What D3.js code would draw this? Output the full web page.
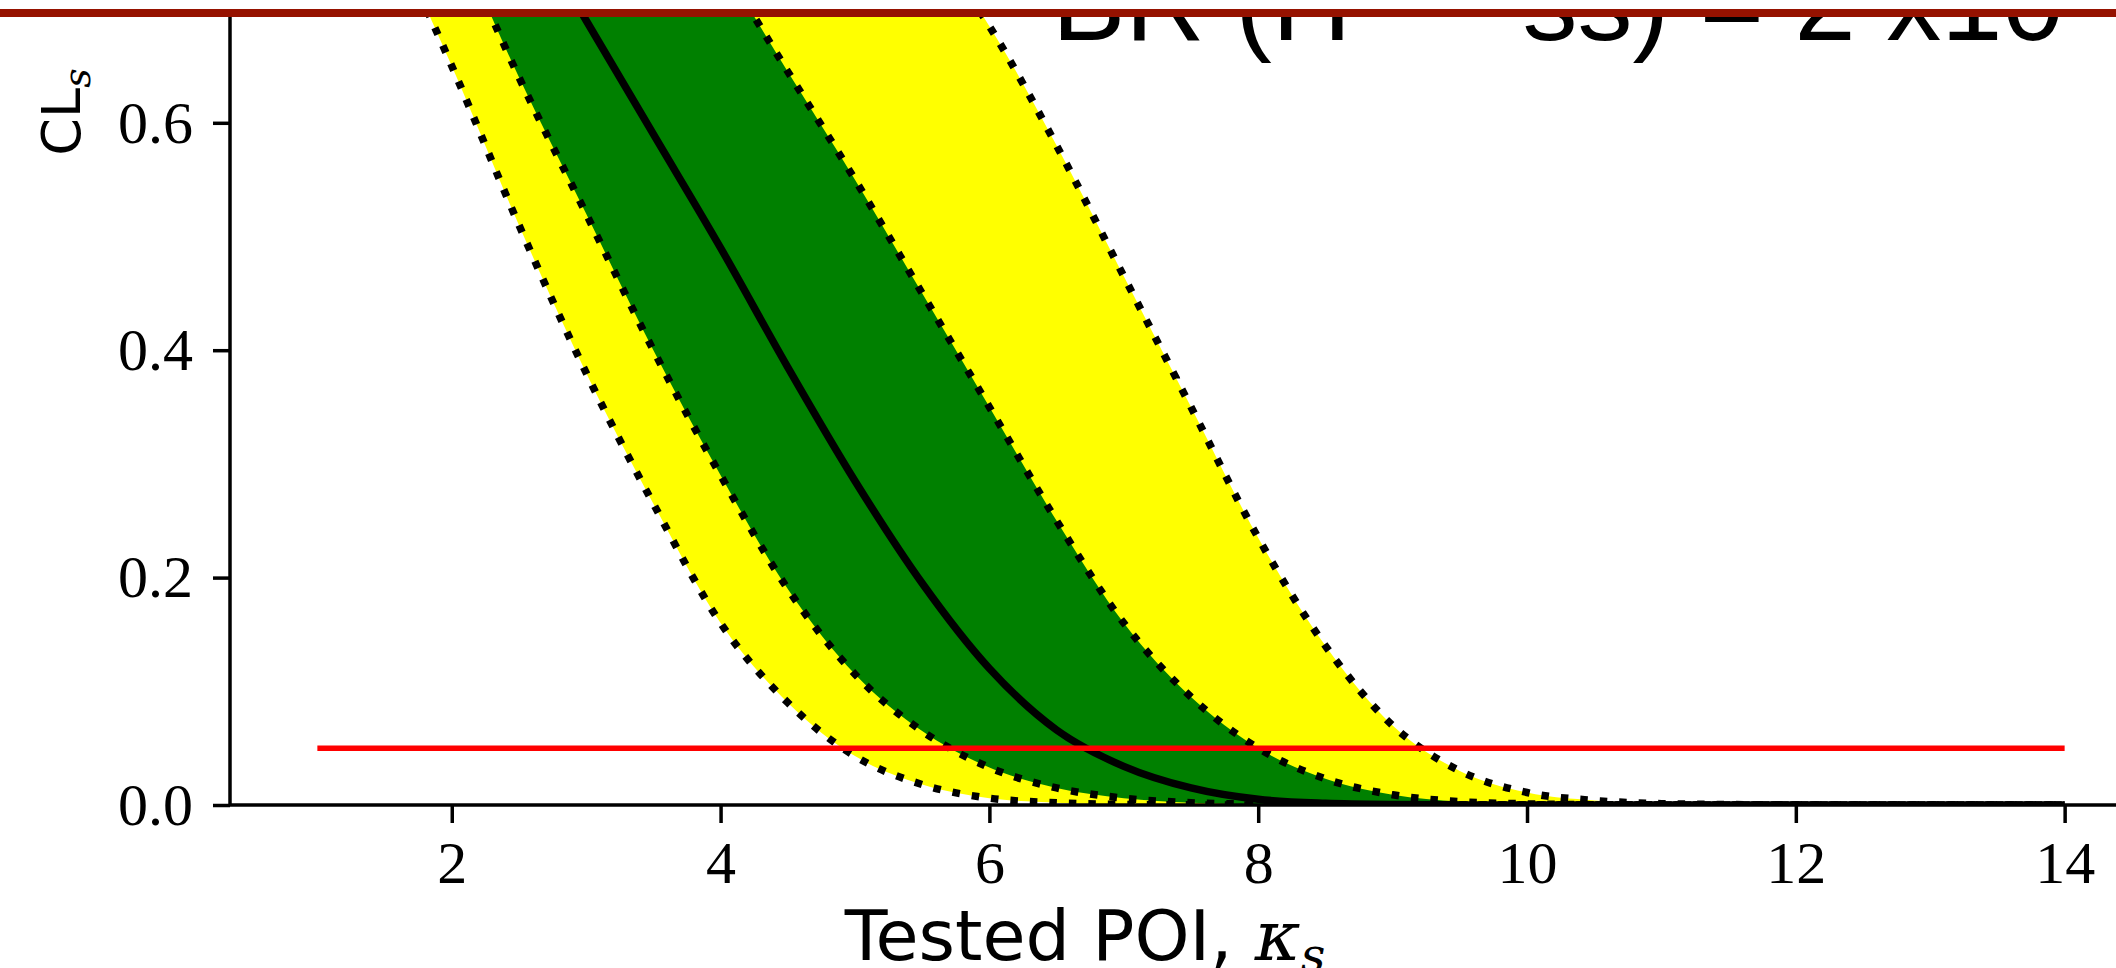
<!DOCTYPE html>
<html>
<head>
<meta charset="utf-8">
<script src="https://cdn.jsdelivr.net/npm/d3@7"></script>
<style>
  body { margin: 0; background: #fff; }
  svg { display: block; }
</style>
</head>
<body>
<div id="chart"></div>
<script>
// Tested POI values and CLs expected bands
var kappa = [1, 1.5, 2, 2.5, 3, 3.5, 4, 4.5, 5, 5.5, 6, 6.5, 7, 7.5, 8, 8.5, 9, 9.5, 10, 10.5, 11, 11.5, 12, 12.5, 13, 13.5, 14];
var clsMinus2 = [0.90, 0.78, 0.65, 0.51, 0.38, 0.265, 0.16, 0.09, 0.043, 0.018, 0.006, 0.002, 0.0005, 0.0001, 0, 0, 0, 0, 0, 0, 0, 0, 0, 0, 0, 0, 0];
var clsMinus1 = [0.95, 0.88, 0.77, 0.64, 0.52, 0.40, 0.29, 0.19, 0.115, 0.065, 0.033, 0.015, 0.006, 0.002, 0.0007, 0.0002, 0, 0, 0, 0, 0, 0, 0, 0, 0, 0, 0];
var clsMedian = [0.97, 0.93, 0.87, 0.79, 0.69, 0.59, 0.49, 0.385, 0.285, 0.195, 0.12, 0.066, 0.034, 0.015, 0.005, 0.0015, 0.0004, 0.0001, 0, 0, 0, 0, 0, 0, 0, 0, 0];
var clsPlus1 = [0.995, 0.985, 0.97, 0.94, 0.89, 0.82, 0.74, 0.645, 0.55, 0.45, 0.35, 0.25, 0.16, 0.095, 0.05, 0.023, 0.009, 0.003, 0.001, 0.0003, 0.0001, 0, 0, 0, 0, 0, 0];
var clsPlus2 = [1.0, 0.998, 0.995, 0.99, 0.98, 0.97, 0.95, 0.91, 0.85, 0.77, 0.685, 0.58, 0.465, 0.35, 0.235, 0.14, 0.07, 0.03, 0.011, 0.004, 0.0012, 0.0004, 0.0001, 0, 0, 0, 0];

// 95% CL threshold line
var clsLevel = 0.05;
var levelRange = [1, 14];

var xTicks = [2, 4, 6, 8, 10, 12, 14];
var yTicks = [0, 0.2, 0.4, 0.6];

var svgWidth = 2116;
var svgHeight = 968;

var svg = d3.select("#chart")
  .append("svg")
  .attr("width", svgWidth)
  .attr("height", svgHeight);

// axes box (right and top edges fall outside the picture)
var left = 230, bottom = 805;

var xScale = d3.scaleLinear()
  .domain([0.35, 14.65])
  .range([left, 2152]);

var yScale = d3.scaleLinear()
  .domain([0, 1.05])
  .range([bottom, bottom - 1.05 * 1137]);

svg.append("clipPath")
  .attr("id", "plotClip")
  .append("rect")
  .attr("x", left)
  .attr("y", yScale(1.05))
  .attr("width", 2152 - left)
  .attr("height", bottom - yScale(1.05));

var rows = kappa.map(function(k, i) {
  return { k: k, m2: clsMinus2[i], m1: clsMinus1[i], med: clsMedian[i], p1: clsPlus1[i], p2: clsPlus2[i] };
});

var plot = svg.append("g").attr("clip-path", "url(#plotClip)");

function band(lo, hi) {
  return d3.area()
    .curve(d3.curveMonotoneX)
    .x(d => xScale(d.k))
    .y0(d => yScale(d[lo]))
    .y1(d => yScale(d[hi]));
}

function curve(key) {
  return d3.line()
    .curve(d3.curveMonotoneX)
    .x(d => xScale(d.k))
    .y(d => yScale(d[key]));
}

// yellow 2 sigma band, green 1 sigma band
plot.append("path").datum(rows).attr("d", band("m2", "p2")).attr("fill", "#ffff00");
plot.append("path").datum(rows).attr("d", band("m1", "p1")).attr("fill", "#008000");

// dotted band edges
["m2", "m1", "p1", "p2"].forEach(function(key) {
  plot.append("path")
    .datum(rows)
    .attr("d", curve(key))
    .attr("fill", "none")
    .attr("stroke", "#000")
    .attr("stroke-width", 7.5)
    .attr("stroke-dasharray", "7.5,12");
});

// expected median
plot.append("path")
  .datum(rows)
  .attr("d", curve("med"))
  .attr("fill", "none")
  .attr("stroke", "#000")
  .attr("stroke-width", 7.5);

// CLs = 0.05 line
plot.append("line")
  .attr("x1", xScale(levelRange[0]))
  .attr("x2", xScale(levelRange[1]))
  .attr("y1", yScale(clsLevel))
  .attr("y2", yScale(clsLevel))
  .attr("stroke", "#ff0000")
  .attr("stroke-width", 5.5);

// axes
var bottomAxis = d3.axisBottom(xScale)
  .tickValues(xTicks)
  .tickSize(18)
  .tickPadding(17)
  .tickFormat(d3.format("d"));

var leftAxis = d3.axisLeft(yScale)
  .tickValues(yTicks)
  .tickSize(17)
  .tickPadding(20)
  .tickFormat(d3.format(".1f"));

var xAxis = svg.append("g")
  .attr("transform", `translate(0, ${bottom})`)
  .call(bottomAxis);

var yAxis = svg.append("g")
  .attr("transform", `translate(${left}, 0)`)
  .call(leftAxis);

[xAxis, yAxis].forEach(function(ax) {
  ax.select(".domain").attr("stroke", "#000").attr("stroke-width", 3.5);
  ax.selectAll(".tick line").attr("stroke", "#000").attr("stroke-width", 3.5);
  ax.selectAll(".tick text")
    .attr("fill", "#000")
    .style("font-family", "'Liberation Serif', serif")
    .style("font-size", "60px");
});
yAxis.select(".domain").attr("d", `M0,${bottom}V${yScale(1.05)}`);
xAxis.select(".domain").attr("d", `M${left},0H2152`);

// axis labels
var yLabel = svg.append("text")
  .attr("transform", "translate(80, 112) rotate(-90)")
  .attr("text-anchor", "middle")
  .style("font-family", "'DejaVu Sans', sans-serif")
  .style("font-size", "54px");
yLabel.append("tspan").text("CL");
yLabel.append("tspan")
  .attr("dy", 10)
  .style("font-family", "'DejaVu Serif', serif")
  .style("font-style", "italic")
  .style("font-size", "38px")
  .text("s");

var xLabel = svg.append("text")
  .attr("x", 1085)
  .attr("y", 960)
  .attr("text-anchor", "middle")
  .style("font-family", "'DejaVu Sans', sans-serif")
  .style("font-size", "70px");
xLabel.append("tspan").text("Tested POI, ");
xLabel.append("tspan")
  .style("font-family", "'DejaVu Serif', serif")
  .style("font-style", "italic")
  .text("κ");
xLabel.append("tspan")
  .attr("dy", 12)
  .style("font-family", "'DejaVu Serif', serif")
  .style("font-style", "italic")
  .style("font-size", "48px")
  .text("s");

// slide title, mostly hidden behind the header bar
var title = svg.append("text")
  .attr("x", 1052)
  .attr("y", 40)
  .style("font-family", "'Liberation Sans', Arial, sans-serif")
  .style("font-size", "110px");
title.append("tspan").text("BR (H ");
title.append("tspan").attr("dy", -30).text("→");
title.append("tspan").attr("dy", 30).text(" ss) = 2 x10");

// slide header: white strip and dark red bar on top
svg.append("rect").attr("x", 0).attr("y", 0).attr("width", svgWidth).attr("height", 9).attr("fill", "#fff");
svg.append("rect").attr("x", 0).attr("y", 9).attr("width", svgWidth).attr("height", 8).attr("fill", "#961200");
</script>
</body>
</html>
